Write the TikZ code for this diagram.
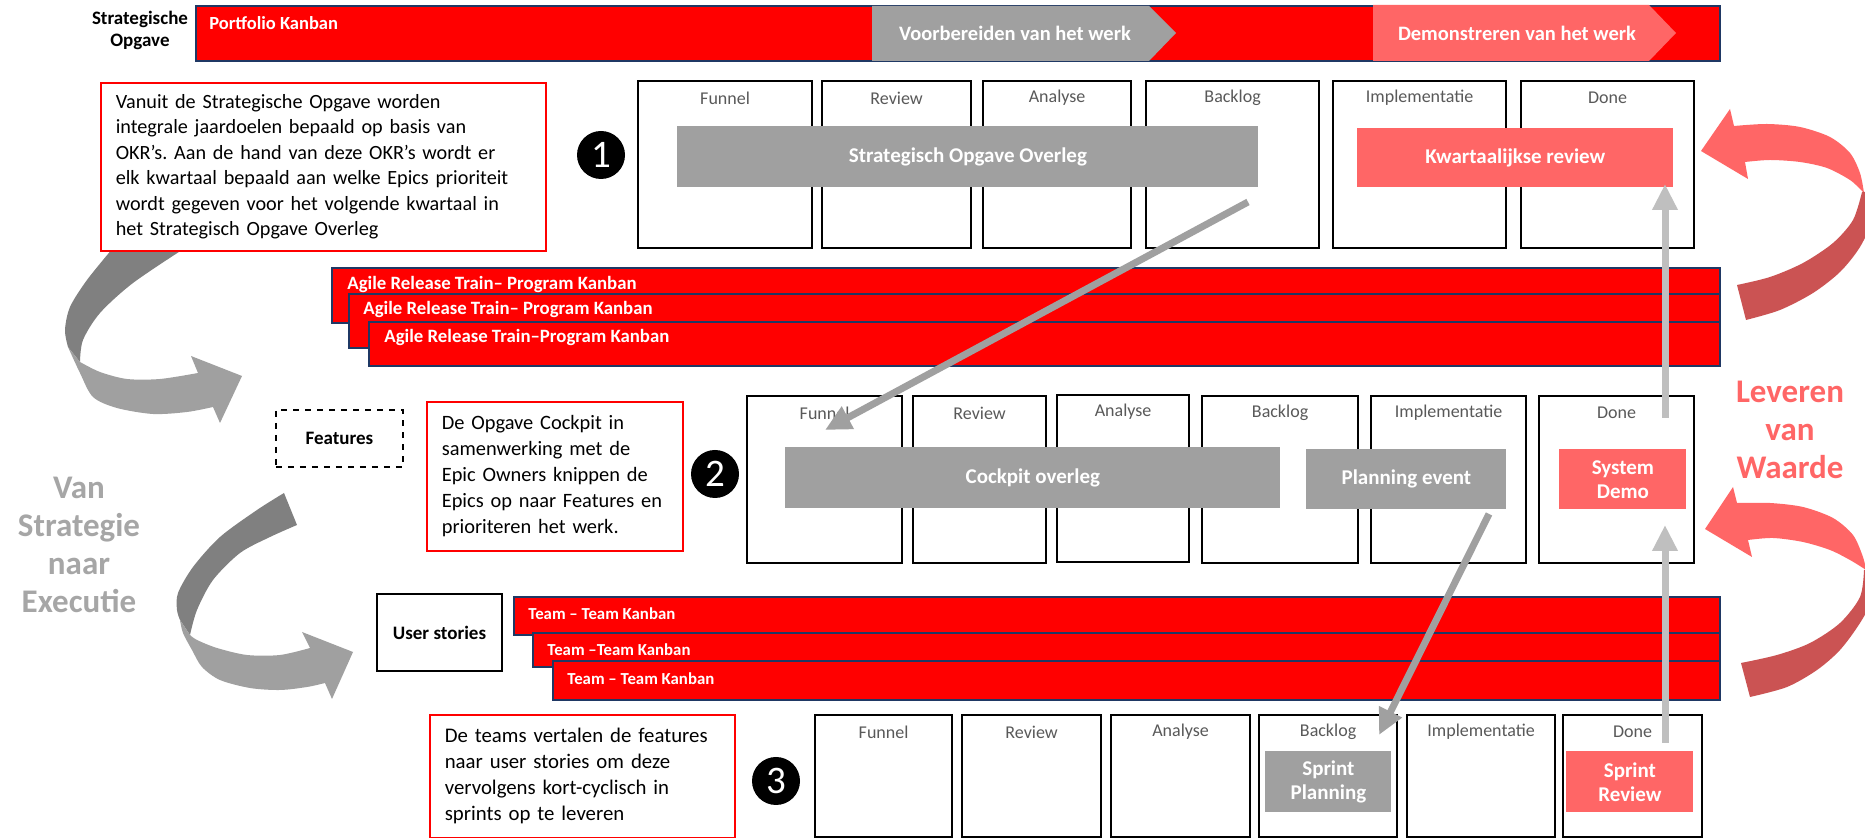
\documentclass[tikz,border=0pt]{standalone}
\usepackage{fontspec}
\setmainfont{Carlito}
\usetikzlibrary{arrows.meta,calc}
\frenchspacing
\definecolor{navy}{HTML}{1F3864}
\definecolor{kgray}{HTML}{A0A0A0}
\definecolor{kpink}{HTML}{FF6666}
\definecolor{kdpink}{HTML}{CB5353}
\definecolor{lgray}{HTML}{BFBFBF}
\definecolor{mgray}{HTML}{A0A0A0}
\definecolor{dgray}{HTML}{808080}
\definecolor{lblgray}{HTML}{595959}
\definecolor{vgray}{HTML}{A6A6A6}
\newcommand{\kbox}[7]{\node[#6, anchor=north west, minimum width={(#4-#2)*0.5pt}, minimum height={(#5-#3)*0.5pt}] (#1) at (#2,#3) {#7};}
\tikzset{
 col/.style={draw=black, line width=1.1pt, fill=white, inner sep=0pt},
 collabel/.style={text=lblgray, font=\fontsize{9}{11}\selectfont, inner sep=0pt},
 cl/.style={label={[collabel, anchor=center, yshift=-9pt]north:#1}},
 gbox/.style={fill=kgray, text=white, font=\bfseries\fontsize{10.5}{12}\selectfont, align=center, inner sep=0pt},
 pbox/.style={gbox, fill=kpink},
 bar/.style={fill=red, draw=navy, line width=0.9pt, inner sep=0pt},
 btext/.style={text=white, font=\bfseries\fontsize{9.4}{11}\selectfont, anchor=west, inner sep=0pt},
 ttext/.style={btext, font=\bfseries\fontsize{8.4}{10}\selectfont},
 chev/.style={text=white, font=\bfseries\fontsize{10.25}{12}\selectfont, inner sep=0pt},
 rbox/.style={draw=red, line width=0.8pt, fill=white, text width=#1, align=left, inner xsep=7.5pt, inner ysep=0pt, font=\fontsize{10.2}{12.75}\selectfont},
 num/.style={circle, fill=black, text=white, minimum size=24pt, inner sep=0pt, font=\fontsize{19.5}{19.5}\selectfont},
 lab/.style={font=\bfseries\fontsize{9.5}{11}\selectfont, align=center, inner sep=0pt},
 big/.style={font=\bfseries\fontsize{16.5}{19}\selectfont, align=center, inner sep=0pt},
 flow/.style={draw=kgray, line width=3.5pt, -{Triangle[length=13pt,width=12pt]}},
 upflow/.style={flow, draw=lgray},
}
\begin{document}
\begin{tikzpicture}[x=0.5pt,y=-0.5pt]
\useasboundingbox (0,0) rectangle (1865,838);
\clip (0,0) rectangle (1865,838);
\fill[white] (0,0) rectangle (1865,838);

% ---- curved arrows (left, gray)
\fill[dgray] plot[smooth] coordinates {(113,248) (87,280) (70,307) (65,330) (68,347)} -- plot[smooth] coordinates {(80,362) (83,340) (100,313) (133,283) (185,248)} -- cycle;
\fill[mgray] plot[smooth] coordinates {(68,347) (80,373) (93,397) (117,408) (153,414) (187,412) (213,407)} -- (220,423) -- (242,376) -- (191,356) -- plot[smooth] coordinates {(198,373) (160,379) (127,379) (100,372) (80,362)} -- cycle;
\fill[dgray] plot[smooth] coordinates {(284,493) (257,510) (220,537) (193,567) (178,593) (177,610) (180,620)} -- plot[smooth] coordinates {(190,635) (197,610) (213,580) (240,553) (270,537) (297,525)} -- cycle;
\fill[mgray] plot[smooth] coordinates {(180,620) (183,633) (192,650) (202,667) (220,680) (250,688) (280,690) (307,687) (325,683)} -- (332,699) -- (353,652) -- (302,632) -- plot[smooth] coordinates {(310,648) (280,655) (247,655) (217,648) (197,640) (190,635)} -- cycle;

% ---- curved arrows (right, pink)
\fill[kpink] (1701,151) -- (1730,109) -- plot[smooth] coordinates {(1734,126) (1767,124) (1800,127) (1830,137) (1850,153) (1860,173) (1864,193)} -- plot[smooth] coordinates {(1862,191) (1850,180) (1827,168) (1800,162) (1770,160) (1745,162)} -- (1748,179) -- cycle;
\fill[kdpink] plot[smooth] coordinates {(1862,192) (1853,220) (1833,243) (1803,263) (1770,277) (1737,285)} -- plot[smooth] coordinates {(1746,320) (1780,310) (1813,293) (1840,272) (1860,247) (1875,215) (1878,192)} -- cycle;
\fill[kpink] (1705,529) -- (1733,487) -- plot[smooth] coordinates {(1737,503) (1770,503) (1803,507) (1833,518) (1853,535) (1863,557) (1866,570)} -- plot[smooth] coordinates {(1863,568) (1850,560) (1830,550) (1803,542) (1773,538) (1748,540)} -- (1752,557) -- cycle;
\fill[kdpink] plot[smooth] coordinates {(1864,570) (1860,597) (1840,623) (1810,643) (1777,655) (1741,663)} -- plot[smooth] coordinates {(1750,697) (1787,687) (1817,670) (1840,650) (1860,623) (1878,590) (1880,570)} -- cycle;

% ---- top bar
\node[lab] (so) at (140,30) {Strategische\\Opgave};
\kbox{pk}{195}{5}{1719}{60}{bar}{}
\node[btext, font=\bfseries\fontsize{9.25}{11}\selectfont] (pkt) at (209,23) {Portfolio Kanban};
\fill[kgray] (872,6) -- (1149,6) -- (1176,33) -- (1149,61) -- (872,61) -- cycle;
\node[chev] (vb) at (1015,33) {Voorbereiden van het werk};
\fill[kpink] (1373,5) -- (1649,5) -- (1676,33) -- (1649,61) -- (1373,61) -- cycle;
\node[chev] (dm) at (1517,33) {Demonstreren van het werk};

% ---- explanation boxes
\kbox{t1}{100}{82}{545}{250}{rbox=207.5pt, font=\fontsize{10.1}{12.75}\selectfont}{\mbox{Vanuit de Strategische Opgave worden}\\\mbox{integrale jaardoelen bepaald op basis van}\\\mbox{OKR’s. Aan de hand van deze OKR’s wordt er}\\\mbox{elk kwartaal bepaald aan welke Epics prioriteit}\\\mbox{wordt gegeven voor het volgende kwartaal in}\\\mbox{het Strategisch Opgave Overleg}}
\kbox{t2}{426}{401}{682}{550}{rbox=113pt, font=\fontsize{10.2}{13}\selectfont}{\mbox{De Opgave Cockpit in}\\\mbox{samenwerking met de}\\\mbox{Epic Owners knippen de}\\\mbox{Epics op naar Features en}\\\mbox{prioriteren het werk.}}
\kbox{t3}{429}{714}{734}{837}{rbox=137.5pt, font=\fontsize{10.4}{13}\selectfont}{\mbox{De teams vertalen de features}\\\mbox{naar user stories om deze}\\\mbox{vervolgens kort-cyclisch in}\\\mbox{sprints op te leveren}}

\node[num] (n1) at (601,155) {1};
\node[num] (n2) at (715,474) {2};
\node[num] (n3) at (776,781) {3};

\node[big, text=vgray] (vs) at (79,545) {Van\\Strategie\\naar\\Executie};
\node[big, text=kpink] (lv) at (1790,430) {Leveren\\van\\Waarde};

\kbox{feat}{275}{409}{402}{466}{draw, dashed, line width=0.9pt, lab}{Features}
\kbox{us}{376}{593}{501}{670}{draw, line width=1pt, lab}{User stories}

% ---- section 1 columns
\kbox{a1}{637}{80}{811}{247}{col, cl=Funnel}{}
\kbox{a2}{821}{80}{970}{247}{col, cl=Review}{}
\kbox{a3}{982}{80}{1130}{247}{col, cl=Analyse}{}
\kbox{a4}{1145}{80}{1318}{247}{col, cl=Backlog}{}
\kbox{a5}{1332}{80}{1505}{247}{col, cl=Implementatie}{}
\kbox{a6}{1520}{80}{1693}{247}{col, cl=Done}{}
\kbox{soo}{677}{126}{1258}{187}{gbox}{Strategisch Opgave Overleg}
\kbox{kwr}{1357}{128}{1673}{187}{pbox}{Kwartaalijkse review}

% ---- section 2 columns
\kbox{b1}{746}{395}{901}{562}{col, cl=Funnel}{}
\kbox{b2}{912}{395}{1045}{562}{col, cl=Review}{}
\kbox{b3}{1056}{394}{1188}{561}{col, cl=Analyse}{}
\kbox{b4}{1201}{395}{1357}{562}{col, cl=Backlog}{}
\kbox{b5}{1370}{395}{1525}{562}{col, cl=Implementatie}{}
\kbox{b6}{1538}{395}{1693}{562}{col, cl=Done}{}
\kbox{cko}{785}{447}{1280}{508}{gbox}{Cockpit overleg}
\kbox{ple}{1306}{449}{1506}{509}{gbox}{Planning event}
\kbox{sd}{1559}{449}{1686}{509}{pbox}{System\\Demo}

% ---- section 3 columns
\kbox{c1}{814}{714}{951}{836}{col, cl=Funnel}{}
\kbox{c2}{961}{714}{1100}{836}{col, cl=Review}{}
\kbox{c3}{1110}{714}{1249}{836}{col, cl=Analyse}{}
\kbox{c4}{1258}{714}{1396}{836}{col, cl=Backlog}{}
\kbox{c5}{1406}{714}{1554}{836}{col, cl=Implementatie}{}
\kbox{c6}{1562}{714}{1701}{836}{col, cl=Done}{}
\kbox{spp}{1265}{751}{1391}{812}{gbox}{Sprint\\Planning}
\kbox{spr}{1566}{751}{1693}{812}{pbox}{Sprint\\Review}

% ---- ART bars
\kbox{art1}{331}{267}{1719}{322}{bar}{}
\node[btext] (art1t) at (347,285) {Agile Release Train– Program Kanban};
\kbox{art2}{348}{293}{1719}{347}{bar}{}
\node[btext] (art2t) at (363,310) {Agile Release Train– Program Kanban};
\kbox{art3}{368}{321}{1719}{365}{bar}{}
\node[btext] (art3t) at (384,338) {Agile Release Train–Program Kanban};

% ---- Team bars
\kbox{tm1}{513}{596}{1719}{634}{bar}{}
\node[ttext] (tm1t) at (528,614) {Team – Team Kanban};
\kbox{tm2}{532}{632}{1719}{666}{bar}{}
\node[ttext] (tm2t) at (547,650) {Team –Team Kanban};
\kbox{tm3}{552}{660}{1719}{699}{bar}{}
\node[ttext] (tm3t) at (567,679) {Team – Team Kanban};

% ---- connectors
\coordinate (f1s) at (1248,202);
\coordinate (f1e) at (825,430);
\draw[flow] (f1s) -- (f1e);
\coordinate (f2s) at (1489,514);
\coordinate (f2e) at (1379,735);
\draw[flow] (f2s) -- (f2e);
\coordinate (u1s) at (1665,743);
\coordinate (u1e) at (1665,525);
\draw[upflow] (u1s) -- (u1e);
\coordinate (u2s) at (1665,418);
\coordinate (u2e) at (1665,184);
\draw[upflow] (u2s) -- (u2e);
\end{tikzpicture}
\end{document}
